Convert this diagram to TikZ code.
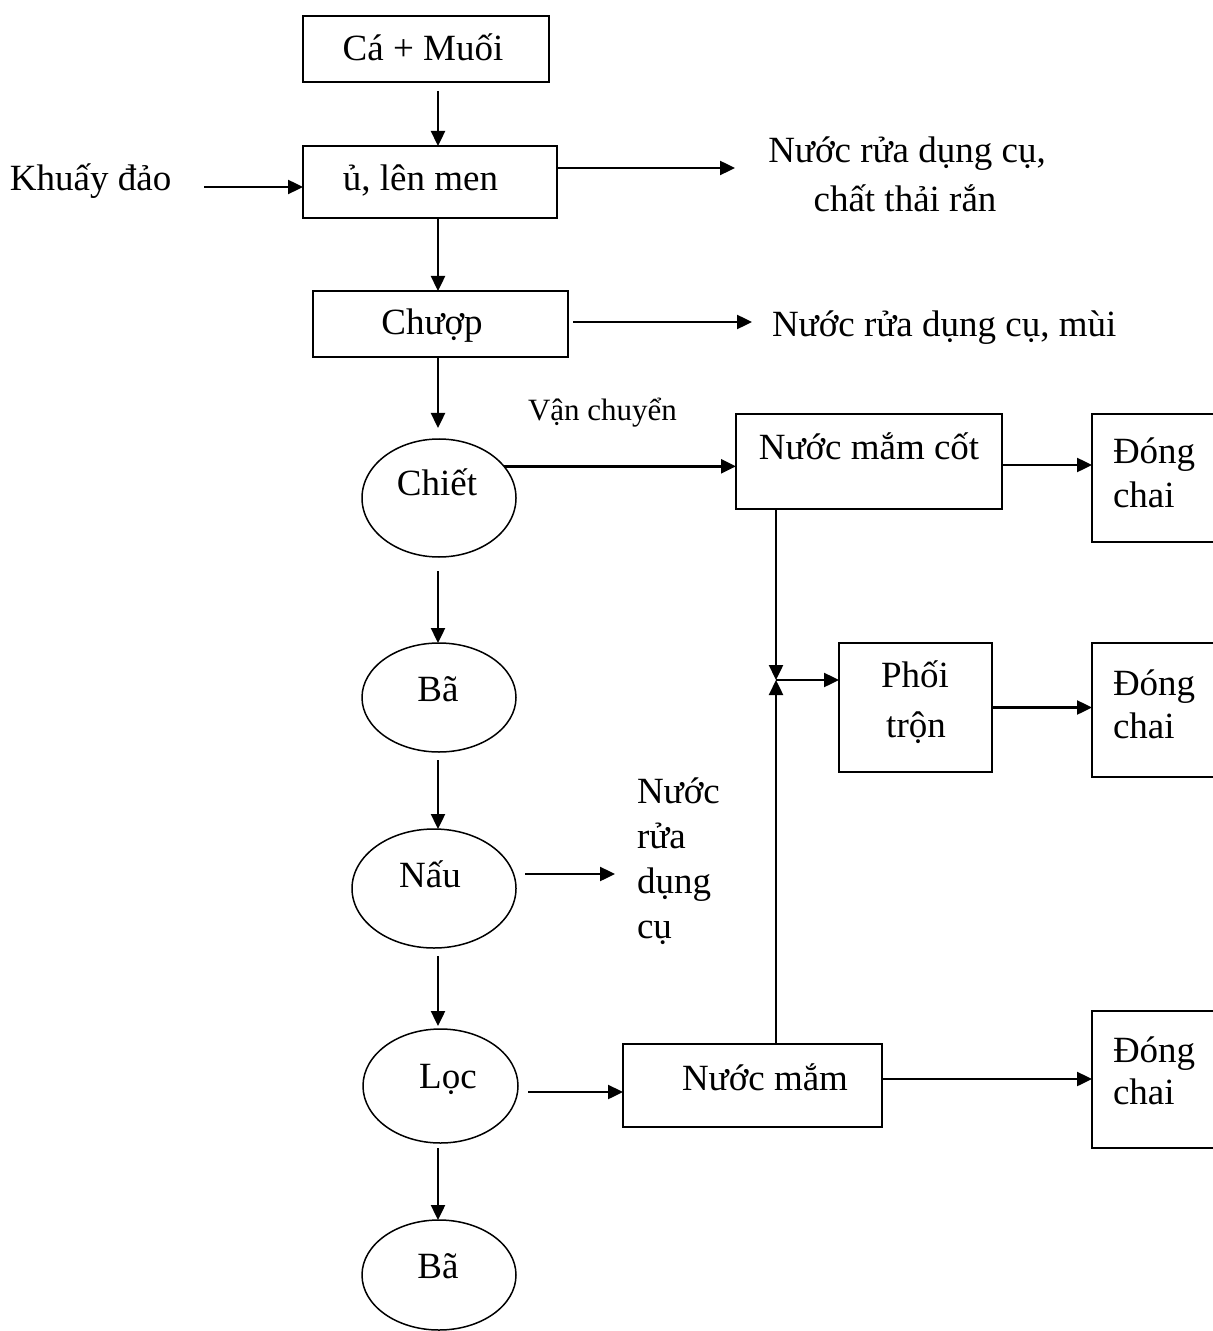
\documentclass[tikz,border=0pt]{standalone}
\usepackage{fontspec}
\setmainfont{Liberation Serif}
\usetikzlibrary{shapes.geometric,arrows.meta}

\begin{document}
\begin{tikzpicture}[x=0.5pt,y=-0.5pt,
  every node/.style={inner sep=0pt,outer sep=0pt},
  box/.style={draw,line width=0.85pt},
  oval/.style={draw,ellipse,line width=0.75pt},
  lbl/.style={font=\fontsize{18.5}{22}\selectfont,anchor=base},
  lblw/.style={font=\fontsize{18.5}{22}\selectfont,anchor=base west},
  note/.style={font=\fontsize{15.5}{18}\selectfont,anchor=base west},
  arr/.style={line width=1.2pt,-{Triangle[length=7.5pt,width=7pt]}}]
\path[use as bounding box,fill=white] (0,0) rectangle (1213,1331);
\clip (0,0) rectangle (1213,1331);

% vertical axis of the main process column
\coordinate (axis) at (438,0);

% process boxes
\node[box,minimum width=123pt,minimum height=33pt] (cm) at (426,49) {};
\node[box,minimum width=127pt,minimum height=36pt] (ul) at (430,182) {};
\node[box,minimum width=127.5pt,minimum height=33pt] (ch) at (440.5,324) {};
\node[box,minimum width=133pt,minimum height=47.5pt] (nmc) at (869,461.5) {};
\node[box,minimum width=80pt,minimum height=64pt] (dc1) at (1172,478) {};
\node[box,minimum width=76.5pt,minimum height=64.5pt] (pt) at (915.5,707.5) {};
\node[box,minimum width=80pt,minimum height=67pt] (dc2) at (1172,710) {};
\node[box,minimum width=129.5pt,minimum height=41.5pt] (nm) at (752.5,1085.5) {};
\node[box,minimum width=80pt,minimum height=68.5pt] (dc3) at (1172,1079.5) {};

% oval steps
\node[oval,minimum width=77pt,minimum height=59pt] (chiet) at (439,498) {};
\node[oval,minimum width=77pt,minimum height=54.5pt] (ba1) at (439,697.5) {};
\node[oval,minimum width=82pt,minimum height=59.5pt] (nau) at (434,888.5) {};
\node[oval,minimum width=77.5pt,minimum height=57pt] (loc) at (440.5,1086) {};
\node[oval,minimum width=77pt,minimum height=55pt] (ba2) at (439,1275) {};

% labels
\node[lbl] (tcm) at (423,61) {Cá + Muối};
\node[lbl] (tul) at (420.5,191) {ủ, lên men};
\node[lbl] (tch) at (432,335) {Chượp};
\node[lblw] (tkd) at (10,191) {Khuấy đảo};
\node[lbl] (to1a) at (907,163) {Nước rửa dụng cụ,};
\node[lbl] (to1b) at (905,212) {chất thải rắn};
\node[lblw] (to2) at (772,337) {Nước rửa dụng cụ, mùi};
\node[note] (tvc) at (528,421) {Vận chuyển};
\node[lbl] (tchiet) at (437,495) {Chiết};
\node[lbl] (tba1) at (438,701) {Bã};
\node[lbl] (tnau) at (430,887) {Nấu};
\node[lbl] (tloc) at (448,1088) {Lọc};
\node[lbl] (tba2) at (438,1278) {Bã};
\node[lblw] (tw1) at (637,803) {Nước};
\node[lblw] (tw2) at (637,848) {rửa};
\node[lblw] (tw3) at (637,893) {dụng};
\node[lblw] (tw4) at (637,938) {cụ};
\node[lbl] (tnmc) at (869,459) {Nước mắm cốt};
\node[lblw] (td1a) at (1113,463) {Đóng};
\node[lblw] (td1b) at (1113,507) {chai};
\node[lbl] (tpt1) at (915,687) {Phối};
\node[lbl] (tpt2) at (916,737) {trộn};
\node[lblw] (td2a) at (1113,695) {Đóng};
\node[lblw] (td2b) at (1113,738) {chai};
\node[lbl] (tnm) at (765,1090) {Nước mắm};
\node[lblw] (td3a) at (1113,1062) {Đóng};
\node[lblw] (td3b) at (1113,1104) {chai};

% main column flow
\draw[arr,shorten <=4.5pt] (cm.south -| axis) -- (ul.north -| axis);
\draw[arr] (ul.south -| axis) -- (ch.north -| axis);
\draw[arr,shorten >=5.5pt] (ch.south -| axis) -- (chiet.north -| axis);
\draw[arr,shorten <=7pt] (chiet.south -| axis) -- (ba1.north -| axis);
\draw[arr,shorten <=4pt] (ba1.south -| axis) -- (nau.north -| axis);
\draw[arr,shorten <=4pt,shorten >=1.5pt] (nau.south -| axis) -- (loc.north -| axis);
\draw[arr,shorten <=2.5pt] (loc.south -| axis) -- (ba2.north -| axis);

% inputs and outputs
\coordinate (kdout) at (204,187);
\draw[arr] (kdout) -- (kdout -| ul.west);
\coordinate (o1) at (735,168);
\draw[arr] (ul.east |- o1) -- (o1);
\coordinate (o2) at (752,322);
\draw[arr,shorten <=2.5pt] (ch.east |- o2) -- (o2);
\coordinate (o3) at (615,874);
\draw[arr,shorten <=4.5pt] (nau.east |- o3) -- (o3);

% product branches
\draw[arr] (chiet.26) -- (chiet.26 -| nmc.west);
\coordinate (r1) at (0,465);
\draw[arr] (nmc.east |- r1) -- (dc1.west |- r1);
\coordinate (j) at (776,680);
\draw[arr] (nmc.south -| j) -- (j);
\draw[arr] (nm.north -| j) -- (j);
\draw[arr] (j) -- (j -| pt.west);
\draw[arr] (pt.east) -- (pt.east -| dc2.west);
\coordinate (r2) at (0,1092);
\draw[arr,shorten <=5pt] (loc.east |- r2) -- (nm.west |- r2);
\coordinate (r3) at (0,1079);
\draw[arr] (nm.east |- r3) -- (dc3.west |- r3);
\end{tikzpicture}
\end{document}
